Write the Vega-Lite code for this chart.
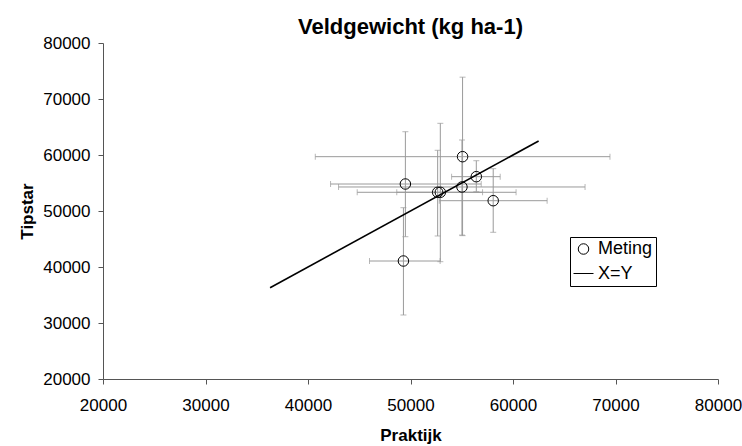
{
  "$schema": "https://vega.github.io/schema/vega-lite/v6.json",
  "width": 615,
  "height": 336,
  "autosize": {"type": "none"},
  "padding": {"left": 103, "top": 43, "right": 24, "bottom": 67},
  "background": "white",
  "title": {
    "text": "Veldgewicht (kg ha-1)",
    "font": "Liberation Sans",
    "fontSize": 22,
    "fontWeight": "bold",
    "color": "black",
    "anchor": "middle",
    "frame": "group",
    "offset": -5
  },
  "datasets": {
    "meting": [
      {"serie": "Meting", "praktijk": 55080, "tipstar": 59700, "xlo": 40710, "xhi": 69460, "ylo": 45600, "yhi": 73900},
      {"serie": "Meting", "praktijk": 56420, "tipstar": 56130, "xlo": 54010, "xhi": 58750, "ylo": 53450, "yhi": 58980},
      {"serie": "Meting", "praktijk": 49500, "tipstar": 54820, "xlo": 42200, "xhi": 56900, "ylo": 45410, "yhi": 64160},
      {"serie": "Meting", "praktijk": 55020, "tipstar": 54290, "xlo": 42980, "xhi": 67030, "ylo": 45700, "yhi": 62680},
      {"serie": "Meting", "praktijk": 52650, "tipstar": 53340, "xlo": 44800, "xhi": 60300, "ylo": 45540, "yhi": 60840},
      {"serie": "Meting", "praktijk": 52910, "tipstar": 53340, "xlo": 48660, "xhi": 57030, "ylo": 40950, "yhi": 65660},
      {"serie": "Meting", "praktijk": 58070, "tipstar": 51840, "xlo": 52810, "xhi": 63330, "ylo": 46200, "yhi": 57560},
      {"serie": "Meting", "praktijk": 49310, "tipstar": 41070, "xlo": 46000, "xhi": 52890, "ylo": 31430, "yhi": 50590}
    ],
    "xy": [
      {"serie": "X=Y", "praktijk": 36300, "tipstar": 36300},
      {"serie": "X=Y", "praktijk": 62500, "tipstar": 62500}
    ]
  },
  "config": {
    "view": {"stroke": null},
    "axis": {
      "grid": false,
      "labelFont": "Liberation Sans",
      "labelFontSize": 17,
      "labelColor": "black",
      "labelFlush": false,
      "titleFont": "Liberation Sans",
      "titleFontSize": 17,
      "titleFontWeight": "bold",
      "titleColor": "black",
      "domainColor": "#555",
      "tickColor": "#555",
      "tickSize": 5,
      "domainWidth": 1,
      "tickWidth": 1
    },
    "legend": {
      "orient": "none",
      "legendX": 467,
      "legendY": 194,
      "strokeColor": "black",
      "fillColor": "white",
      "padding": 3,
      "labelFont": "Liberation Sans",
      "labelFontSize": 18,
      "labelColor": "black",
      "labelOffset": 4,
      "rowPadding": 5,
      "symbolStrokeWidth": 1,
      "symbolStrokeColor": "black"
    }
  },
  "layer": [
    {
      "data": {"name": "meting"},
      "mark": {"type": "rule", "color": "#9a9a9a", "strokeWidth": 1},
      "encoding": {
        "x": {"field": "xlo", "type": "quantitative", "scale": {"domain": [20000, 80000], "nice": false},
              "axis": {"title": "Praktijk", "values": [20000, 30000, 40000, 50000, 60000, 70000, 80000], "format": "d", "labelPadding": 13, "titlePadding": 14}},
        "x2": {"field": "xhi"},
        "y": {"field": "tipstar", "type": "quantitative", "scale": {"domain": [20000, 80000], "nice": false},
              "axis": {"title": "Tipstar", "values": [20000, 30000, 40000, 50000, 60000, 70000, 80000], "format": "d", "labelPadding": 8, "titlePadding": 6}}
      }
    },
    {
      "data": {"name": "meting"},
      "mark": {"type": "rule", "color": "#9a9a9a", "strokeWidth": 1},
      "encoding": {
        "x": {"field": "praktijk", "type": "quantitative"},
        "y": {"field": "ylo", "type": "quantitative"},
        "y2": {"field": "yhi"}
      }
    },
    {
      "data": {"name": "meting"},
      "mark": {"type": "tick", "orient": "vertical", "color": "#9a9a9a", "size": 6, "thickness": 1},
      "encoding": {
        "x": {"field": "xlo", "type": "quantitative"},
        "y": {"field": "tipstar", "type": "quantitative"}
      }
    },
    {
      "data": {"name": "meting"},
      "mark": {"type": "tick", "orient": "vertical", "color": "#9a9a9a", "size": 6, "thickness": 1},
      "encoding": {
        "x": {"field": "xhi", "type": "quantitative"},
        "y": {"field": "tipstar", "type": "quantitative"}
      }
    },
    {
      "data": {"name": "meting"},
      "mark": {"type": "tick", "orient": "horizontal", "color": "#9a9a9a", "size": 6, "thickness": 1},
      "encoding": {
        "x": {"field": "praktijk", "type": "quantitative"},
        "y": {"field": "ylo", "type": "quantitative"}
      }
    },
    {
      "data": {"name": "meting"},
      "mark": {"type": "tick", "orient": "horizontal", "color": "#9a9a9a", "size": 6, "thickness": 1},
      "encoding": {
        "x": {"field": "praktijk", "type": "quantitative"},
        "y": {"field": "yhi", "type": "quantitative"}
      }
    },
    {
      "data": {"name": "xy"},
      "mark": {"type": "line", "color": "black", "strokeWidth": 1.6},
      "encoding": {
        "x": {"field": "praktijk", "type": "quantitative"},
        "y": {"field": "tipstar", "type": "quantitative"}
      }
    },
    {
      "data": {"name": "meting"},
      "mark": {"type": "point", "filled": false, "color": "black", "strokeWidth": 1, "opacity": 1},
      "encoding": {
        "x": {"field": "praktijk", "type": "quantitative"},
        "y": {"field": "tipstar", "type": "quantitative"},
        "shape": {"field": "serie", "type": "nominal", "scale": {"domain": ["Meting", "X=Y"], "range": ["circle", "stroke"]}, "legend": {"title": null}},
        "size": {"field": "serie", "type": "nominal", "scale": {"domain": ["Meting", "X=Y"], "range": [110, 400]}, "legend": {"title": null}}
      }
    }
  ]
}
